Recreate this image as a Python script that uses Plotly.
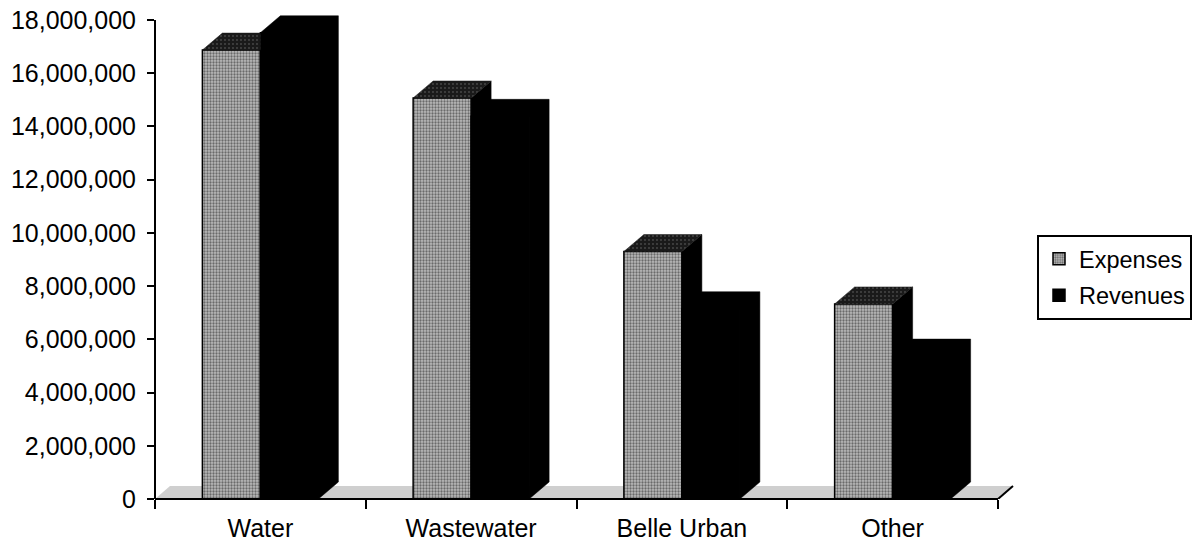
import plotly.graph_objects as go

# ---- data -------------------------------------------------------------
categories = ["Water", "Wastewater", "Belle Urban", "Other"]
expenses = [16_870_000, 15_070_000, 9_300_000, 7_330_000]
revenues = [17_520_000, 14_380_000, 7_150_000, 5_370_000]
y_tick_values = list(range(0, 18_000_001, 2_000_000))
series_names = ["Expenses", "Revenues"]

# ---- layout geometry (pixels) -----------------------------------------
W, H = 1195, 547
PLOT_L, PLOT_R = 155, 1023          # left / right edges of plot area
PLOT_T, PLOT_B = 10, 499            # top / bottom edges of plot area
Y_TOP_TICK_PX = 20                  # pixel row of the 18,000,000 tick
Y_AXIS_MAX = 18_000_000

px_per_x = (998 - PLOT_L) / 4.0                      # one category slot
px_per_y = (PLOT_B - Y_TOP_TICK_PX) / Y_AXIS_MAX
x_range = [-0.5, -0.5 + (PLOT_R - PLOT_L) / px_per_x]
y_range = [0, (PLOT_B - PLOT_T) / px_per_y]

# 3-D extrusion offsets converted to data units
DX = 20 / px_per_x
DY = 17 / px_per_y
FLOOR_DX = 15 / px_per_x
FLOOR_DY = 13 / px_per_y
BAR_W = 58 / px_per_x

GRAY = "#a6a6a6"
TOP_GRAY = "#1a1a1a"
BLACK = "#000000"

fig = go.Figure()

# front faces of the columns
fig.add_trace(go.Bar(
    name=series_names[0], x=list(range(len(categories))), y=expenses,
    width=BAR_W, offset=-BAR_W, legendgroup="e",
    marker=dict(color=GRAY, line=dict(color=BLACK, width=1.5),
                pattern=dict(shape=".", fgcolor="#6a6a6a", bgcolor="#bababa",
                             size=3, solidity=0.45, fillmode="replace")),
    hoverinfo="skip",
))
fig.add_trace(go.Bar(
    name=series_names[1], x=list(range(len(categories))), y=revenues,
    width=BAR_W, offset=0, legendgroup="r",
    marker=dict(color=BLACK, line=dict(color=BLACK, width=1.5)),
    hoverinfo="skip",
))


def poly(xs, ys, color, pattern=None):
    kw = dict(x=xs + [xs[0]], y=ys + [ys[0]], mode="lines", fill="toself",
              fillcolor=color, line=dict(color=color, width=0.5),
              showlegend=False, hoverinfo="skip")
    if pattern:
        kw["fillpattern"] = pattern
    fig.add_trace(go.Scatter(**kw))


# top and side faces of each column pair
for i, (e, r) in enumerate(zip(expenses, revenues)):
    gx0, gx1, bx1 = i - BAR_W, i, i + BAR_W
    # side of the expenses column
    poly([gx1, gx1 + DX, gx1 + DX, gx1], [e, e + DY, DY, 0], BLACK)
    # top of the expenses column (trimmed where the revenues column is in front)
    if r >= e:
        tx = [gx0, gx0 + DX, gx1, gx1]
    else:
        tx = [gx0, gx0 + DX, gx1 + DX, gx1]
    ty = [e, e + DY, e + DY, e]
    poly(tx, ty, TOP_GRAY,
         pattern=dict(shape=".", fgcolor="#6f6f6f", bgcolor=TOP_GRAY,
                      size=4, solidity=0.1, fillmode="replace"))
    # top + side of the revenues column
    poly([gx1, gx1 + DX, bx1 + DX, bx1 + DX, bx1, bx1],
         [r, r + DY, r + DY, DY, 0, r], BLACK)

# floor, value-axis line and category-axis line
floor_path = (f"M{-0.5},0 L{3.5},0 L{3.5 + FLOOR_DX},{FLOOR_DY} "
              f"L{-0.5 + FLOOR_DX},{FLOOR_DY} Z")
shapes = [
    dict(type="path", path=floor_path, xref="x", yref="y", layer="below",
         fillcolor="#cfcfcf", line=dict(width=0)),
    dict(type="line", xref="x", yref="y", x0=3.5, y0=0,
         x1=3.5 + FLOOR_DX, y1=FLOOR_DY, layer="below",
         line=dict(color=BLACK, width=2)),
    dict(type="line", xref="paper", yref="y", x0=0, x1=0,
         y0=0, y1=Y_AXIS_MAX, line=dict(color=BLACK, width=2)),
    dict(type="line", xref="x", yref="paper", x0=-0.5, x1=3.5,
         y0=0, y1=0, line=dict(color=BLACK, width=2)),
]

FONT = "Liberation Sans, Arial, sans-serif"

fig.update_layout(
    width=W, height=H,
    margin=dict(l=PLOT_L, r=W - PLOT_R, t=PLOT_T, b=H - PLOT_B, pad=0,
                autoexpand=False),
    paper_bgcolor="white", plot_bgcolor="white",
    barmode="overlay",
    shapes=shapes,
    font=dict(family=FONT, size=25, color=BLACK),
    xaxis=dict(
        range=x_range, showgrid=False, zeroline=False, showline=False,
        automargin=False,
        tickmode="array", tickvals=list(range(len(categories))),
        ticktext=categories, ticks="", ticklabelstandoff=12,
        tickfont=dict(family=FONT, size=25, color=BLACK),
        minor=dict(tickmode="linear", tick0=-0.5, dtick=1, ticks="outside",
                   ticklen=9, tickwidth=2, tickcolor=BLACK, showgrid=False),
    ),
    yaxis=dict(
        range=y_range, showgrid=False, zeroline=False, showline=False,
        automargin=False,
        tickmode="array", tickvals=y_tick_values,
        ticktext=[f"{v:,}" for v in y_tick_values],
        ticks="outside", ticklen=7, tickwidth=2, tickcolor=BLACK,
        ticklabelstandoff=6,
        tickfont=dict(family=FONT, size=25, color=BLACK),
    ),
    legend=dict(
        xref="container", yref="container",
        x=1037 / W, y=1 - 235 / H,
        xanchor="left", yanchor="top",
        bordercolor=BLACK, borderwidth=2, bgcolor="white",
        font=dict(family=FONT, size=23.5, color=BLACK),
        itemwidth=30, traceorder="grouped", tracegroupgap=3,
    ),
    showlegend=True,
)

fig.write_html("out.html")
